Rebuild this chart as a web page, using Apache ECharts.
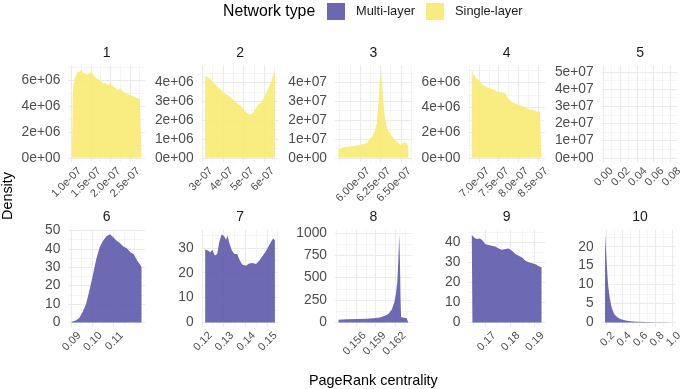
<!DOCTYPE html>
<html><head><meta charset="utf-8">
<script src="https://cdn.jsdelivr.net/npm/echarts@6/dist/echarts.min.js"></script>
<style>html,body{margin:0;padding:0;background:#fff}#c{width:685px;height:389px}</style>
</head><body><div id="c"></div>
<script>
// ---------------- data ----------------
const panelNames = ['1','2','3','4','5','6','7','8','9','10'];
const panelTypes = ['Single-layer','Single-layer','Single-layer','Single-layer','Single-layer',
                    'Multi-layer','Multi-layer','Multi-layer','Multi-layer','Multi-layer'];
const legendNames = ['Multi-layer','Single-layer'];

const p1x = [1.015e-7,1.031e-7,1.041e-7,1.057e-7,1.100e-7,1.159e-7,1.211e-7,1.254e-7,1.314e-7,1.357e-7,1.416e-7,1.468e-7,1.530e-7,1.571e-7,1.640e-7,1.699e-7,1.761e-7,1.812e-7,1.871e-7,1.931e-7,2.000e-7,2.069e-7,2.129e-7,2.188e-7,2.257e-7,2.326e-7,2.386e-7,2.429e-7,2.488e-7,2.558e-7,2.617e-7,2.686e-7,2.753e-7,2.797e-7];
const p1y = [0,2.5e6,5.0e6,5.6e6,6.15e6,6.67e6,6.59e6,6.8e6,6.54e6,6.67e6,6.41e6,6.54e6,6.59e6,6.41e6,6.15e6,6.02e6,5.89e6,5.71e6,5.77e6,5.64e6,5.71e6,5.56e6,5.38e6,5.25e6,5.3e6,5.12e6,4.99e6,5.04e6,4.86e6,4.78e6,4.68e6,4.6e6,4.53e6,4.42e6];

const p2x = [3.133e-7,3.267e-7,3.383e-7,3.517e-7,3.65e-7,3.783e-7,3.933e-7,4.067e-7,4.183e-7,4.317e-7,4.45e-7,4.583e-7,4.717e-7,4.85e-7,4.983e-7,5.117e-7,5.217e-7,5.35e-7,5.467e-7,5.583e-7,5.717e-7,5.85e-7,5.983e-7,6.1e-7,6.217e-7,6.317e-7,6.417e-7,6.517e-7];
const p2y = [4.32e6,4.29e6,4.18e6,4.0e6,3.88e6,3.7e6,3.57e6,3.43e6,3.34e6,3.25e6,3.11e6,2.99e6,2.86e6,2.77e6,2.58e6,2.4e6,2.33e6,2.31e6,2.4e6,2.63e6,2.81e6,2.93e6,3.17e6,3.47e6,3.7e6,4.0e6,4.36e6,4.68e6];

const p3x = [5.736e-7,5.756e-7,5.797e-7,5.858e-7,5.919e-7,5.980e-7,6.041e-7,6.082e-7,6.122e-7,6.155e-7,6.183e-7,6.204e-7,6.220e-7,6.232e-7,6.244e-7,6.252e-7,6.265e-7,6.277e-7,6.293e-7,6.309e-7,6.334e-7,6.366e-7,6.399e-7,6.431e-7,6.468e-7,6.496e-7,6.521e-7,6.549e-7,6.569e-7,6.590e-7];
const p3y = [0.45e7,0.5e7,0.55e7,0.59e7,0.62e7,0.66e7,0.73e7,0.8e7,0.98e7,1.16e7,1.48e7,1.83e7,2.54e7,3.43e7,4.23e7,4.68e7,4.23e7,3.43e7,2.54e7,2.01e7,1.57e7,1.3e7,1.09e7,0.94e7,0.8e7,0.68e7,0.77e7,0.85e7,0.77e7,0.62e7];

const p4x = [6.811e-7,6.854e-7,6.914e-7,6.983e-7,7.043e-7,7.111e-7,7.180e-7,7.248e-7,7.317e-7,7.386e-7,7.454e-7,7.523e-7,7.591e-7,7.660e-7,7.728e-7,7.797e-7,7.865e-7,7.934e-7,8.002e-7,8.071e-7,8.140e-7,8.208e-7,8.277e-7,8.345e-7,8.414e-7,8.482e-7,8.551e-7,8.594e-7];
const p4y = [7.02e6,6.62e6,6.35e6,6.22e6,5.95e6,5.74e6,5.68e6,5.55e6,5.47e6,5.42e6,5.28e6,5.23e6,5.2e6,5.15e6,4.75e6,4.56e6,4.4e6,4.3e6,4.22e6,4.14e6,4.08e6,3.95e6,3.87e6,3.82e6,3.76e6,3.68e6,3.68e6,3.55e6];

const p5x = [];
const p5y = [];
const p5xRange = [0.0026, 0.0836];
const p5yRange = [0, 5.13e7];

const p6x = [0.09048,0.0924,0.09399,0.09558,0.09721,0.0988,0.10038,0.10202,0.10361,0.10519,0.10683,0.10841,0.11,0.11163,0.11322,0.11481,0.11644,0.11803,0.11962,0.12125,0.12284,0.12332];
const p6y = [0.3,1,2.4,5.7,10,17.4,25.5,34.5,40.8,44.4,46.8,47.9,46.2,44.4,43,41.2,40.3,38.1,37.2,33.6,31.2,30];

const p7x = [0.12151,0.12278,0.12389,0.12484,0.12595,0.12706,0.12801,0.12913,0.13024,0.13119,0.13182,0.13278,0.13389,0.135,0.13627,0.13754,0.13865,0.14024,0.14182,0.14341,0.145,0.14659,0.14818,0.14976,0.15135,0.15294,0.15373];
const p7y = [29.3,28.9,28.2,29.2,26.9,27.5,32.3,35.5,34.7,33.3,35,31.6,28.9,27.5,27.5,24.9,23.3,22.8,23.7,23.9,23.5,24.9,26.9,28.9,31.6,33.9,33];

const p8x = [0.15339,0.15465,0.15615,0.15765,0.15864,0.15964,0.16039,0.16089,0.16140,0.16180,0.16204,0.16224,0.16239,0.16254,0.16264,0.16274,0.16282,0.16314,0.16365,0.16389];
const p8y = [30,34,37,41,45,56,75,93,142,224,317,448,673,985,700,250,60,53,48,37];

const p9x = [0.16425,0.16451,0.16521,0.16632,0.16771,0.16882,0.16979,0.17118,0.17257,0.17396,0.17535,0.17674,0.17813,0.17951,0.1809,0.18229,0.18368,0.18507,0.18646,0.18785,0.18924,0.19063,0.19201,0.19313];
const p9y = [43.5,43.9,42.3,41.5,41.8,40.6,39,38.5,38.1,37.8,36.8,36.2,36.5,36.8,35.7,34,33.2,32.3,30.7,29.9,29.5,29,27.9,27.4];

const p10x = [0.19,0.2,0.2116,0.2267,0.2464,0.2661,0.2846,0.3043,0.3426,0.382,0.44,0.498,0.5745,0.69,0.8,0.9,1.0];
const p10y = [23.3,19.5,15.1,10,6.5,4.3,3.0,2.1,1.3,0.8,0.5,0.3,0.2,0.08,0.04,0.02,0.01];

// tick labels (major) and minor grid values
const p1xTicks = [1.0e-7,1.5e-7,2.0e-7,2.5e-7], p1xMinor = [1.25e-7,1.75e-7,2.25e-7,2.75e-7];
const p1yTicks = [0,2e6,4e6,6e6],             p1yMinor = [1e6,3e6,5e6,7e6];
const p2xTicks = [3e-7,4e-7,5e-7,6e-7],       p2xMinor = [3.5e-7,4.5e-7,5.5e-7,6.5e-7];
const p2yTicks = [0,1e6,2e6,3e6,4e6],         p2yMinor = [0.5e6,1.5e6,2.5e6,3.5e6,4.5e6];
const p3xTicks = [6.00e-7,6.25e-7,6.50e-7],   p3xMinor = [5.75e-7,5.875e-7,6.125e-7,6.375e-7,6.625e-7];
const p3yTicks = [0,1e7,2e7,3e7,4e7],         p3yMinor = [0.5e7,1.5e7,2.5e7,3.5e7,4.5e7];
const p4xTicks = [7.0e-7,7.5e-7,8.0e-7,8.5e-7], p4xMinor = [6.75e-7,7.25e-7,7.75e-7,8.25e-7];
const p4yTicks = [0,2e6,4e6,6e6],             p4yMinor = [1e6,3e6,5e6,7e6];
const p5xTicks = [0,0.02,0.04,0.06,0.08],     p5xMinor = [0.01,0.03,0.05,0.07];
const p5yTicks = [0,1e7,2e7,3e7,4e7,5e7],     p5yMinor = [0.5e7,1.5e7,2.5e7,3.5e7,4.5e7];
const p6xTicks = [0.09,0.10,0.11],            p6xMinor = [0.095,0.105,0.115,0.12];
const p6yTicks = [0,10,20,30,40,50],          p6yMinor = [5,15,25,35,45];
const p7xTicks = [0.12,0.13,0.14,0.15],       p7xMinor = [0.125,0.135,0.145,0.155];
const p7yTicks = [0,10,20,30],                p7yMinor = [5,15,25,35];
const p8xTicks = [0.156,0.159,0.162],         p8xMinor = [0.153,0.1545,0.1575,0.1605,0.1635];
const p8yTicks = [0,250,500,750,1000],        p8yMinor = [125,375,625,875];
const p9xTicks = [0.17,0.18,0.19],            p9xMinor = [0.165,0.175,0.185];
const p9yTicks = [0,10,20,30,40],             p9yMinor = [5,15,25,35,45];
const p10xTicks = [0.2,0.4,0.6,0.8,1.0],      p10xMinor = [0.3,0.5,0.7,0.9];
const p10yTicks = [0,5,10,15,20],             p10yMinor = [2.5,7.5,12.5,17.5,22.5];

// ---------------- presentation ----------------
const FONT = "'Liberation Sans', Arial, Helvetica, sans-serif";
const COLORS = {'Multi-layer': '#5A54A8', 'Single-layer': '#F8E96E'};
const KEY_COLORS = {'Multi-layer': '#6C67B3', 'Single-layer': '#F8EC80'};
const colLeft = [68.3, 201.7, 335, 468.3, 601.7];
const rowTop = [65.2, 229.8];
const PW = 76.7, PH = 97;
const LABEL_SHIFT_PX = 4.6;   // rotated tick labels sit a little right of their tick, as ggplot's hjust/vjust = 1 does

function sci(d) {
  return v => v.toExponential(d).replace(/e([+-])(\d)$/, (m, s, n) => 'e' + s + '0' + n);
}
function fix(d) { return v => v.toFixed(d); }
function plain(v) { return String(Math.round(v)); }
function expand(lo, hi) { const w = hi - lo; return [lo - 0.05 * w, hi + 0.05 * w]; }

const P = [
  {x:p1x, y:p1y, xt:p1xTicks, xm:p1xMinor, yt:p1yTicks, ym:p1yMinor, xf:sci(1), yf:sci(0)},
  {x:p2x, y:p2y, xt:p2xTicks, xm:p2xMinor, yt:p2yTicks, ym:p2yMinor, xf:sci(0), yf:sci(0)},
  {x:p3x, y:p3y, xt:p3xTicks, xm:p3xMinor, yt:p3yTicks, ym:p3yMinor, xf:sci(2), yf:sci(0)},
  {x:p4x, y:p4y, xt:p4xTicks, xm:p4xMinor, yt:p4yTicks, ym:p4yMinor, xf:sci(1), yf:sci(0)},
  {x:p5x, y:p5y, xt:p5xTicks, xm:p5xMinor, yt:p5yTicks, ym:p5yMinor, xf:fix(2), yf:sci(0), xr:p5xRange, yr:p5yRange},
  {x:p6x, y:p6y, xt:p6xTicks, xm:p6xMinor, yt:p6yTicks, ym:p6yMinor, xf:fix(2), yf:plain},
  {x:p7x, y:p7y, xt:p7xTicks, xm:p7xMinor, yt:p7yTicks, ym:p7yMinor, xf:fix(2), yf:plain},
  {x:p8x, y:p8y, xt:p8xTicks, xm:p8xMinor, yt:p8yTicks, ym:p8yMinor, xf:fix(3), yf:plain},
  {x:p9x, y:p9y, xt:p9xTicks, xm:p9xMinor, yt:p9yTicks, ym:p9yMinor, xf:fix(2), yf:plain},
  {x:p10x, y:p10y, xt:p10xTicks, xm:p10xMinor, yt:p10yTicks, ym:p10yMinor, xf:fix(1), yf:plain}
];

const grids = [], xAxes = [], yAxes = [], series = [], graphics = [];
const majorLine = {show:true, lineStyle:{color:'#EBEBEB', width:1.1}};
const minorLine = {show:true, lineStyle:{color:'#EFEFEF', width:0.6}};
const hidden = {axisLine:{show:false}, axisTick:{show:false}, splitLine:{show:false}};

P.forEach((p, i) => {
  const col = i % 5, row = Math.floor(i / 5);
  const left = colLeft[col], top = rowTop[row];
  grids.push({left:left, top:top, width:PW, height:PH, containLabel:false});
  const xr = p.xr || [Math.min(...p.x), Math.max(...p.x)];
  const yr = p.yr || [0, Math.max(...p.y)];
  const xl = expand(xr[0], xr[1]);
  const yl = expand(Math.min(0, yr[0]), yr[1]);
  const unit = (xl[1] - xl[0]) / PW;                 // data units per pixel
  const room = (xl[1] - Math.max(...p.xt)) / unit - 0.15;   // keep the last label inside the label axis
  const shift = Math.min(LABEL_SHIFT_PX, room) * unit;
  // major grid x axis (the data axis)
  xAxes.push({gridIndex:i, type:'value', min:xl[0], max:xl[1], position:'bottom',
    axisLine:{show:false}, axisTick:{show:false, customValues:p.xt}, axisLabel:{show:false},
    splitLine:majorLine});
  // minor grid x axis
  xAxes.push({gridIndex:i, type:'value', min:xl[0], max:xl[1], position:'bottom',
    axisLine:{show:false}, axisTick:{show:false, customValues:p.xm}, axisLabel:{show:false},
    splitLine:minorLine});
  // tick-label x axis
  xAxes.push(Object.assign({gridIndex:i, type:'value', min:xl[0] - shift, max:xl[1] - shift, position:'bottom',
    axisLabel:{customValues:p.xt, formatter:p.xf, rotate:45, align:'right', verticalAlign:'top',
      lineHeight:11, margin:3.2, showMinLabel:true, showMaxLabel:true, hideOverlap:false,
      fontSize:11, color:'#4D4D4D', fontFamily:FONT}}, hidden));
  yAxes.push({gridIndex:i, type:'value', min:yl[0], max:yl[1],
    axisLine:{show:false}, axisTick:{show:false, customValues:p.yt},
    axisLabel:{customValues:p.yt, formatter:p.yf, margin:8, showMinLabel:true, showMaxLabel:true, hideOverlap:false,
      fontSize:13.8, color:'#4D4D4D', fontFamily:FONT},
    splitLine:majorLine});
  yAxes.push({gridIndex:i, type:'value', min:yl[0], max:yl[1],
    axisLine:{show:false}, axisTick:{show:false, customValues:p.ym}, axisLabel:{show:false},
    splitLine:minorLine});
  const type = panelTypes[i];
  series.push({type:'line', name:type, xAxisIndex:3*i, yAxisIndex:2*i,
    data:p.x.map((v, k) => [v, p.y[k]]),
    showSymbol:false, symbol:'none', smooth:false, silent:true,
    lineStyle:{width:0, color:COLORS[type]}, itemStyle:{color:COLORS[type]},
    areaStyle:{color:COLORS[type], opacity:0.88}, emphasis:{disabled:true}, z:3});
  graphics.push({type:'text', x:left + PW / 2, y:row === 0 ? 52.8 : 216.8,
    style:{text:panelNames[i], font:'14px ' + FONT, fill:'#1A1A1A', align:'center', verticalAlign:'middle'}});
});

graphics.push({type:'text', x:8.5, y:196, rotation:Math.PI / 2,
  style:{text:'Density', font:'14.4px ' + FONT, fill:'#000', align:'center', verticalAlign:'middle'}});
graphics.push({type:'text', x:373.4, y:381,
  style:{text:'PageRank centrality', font:'14.4px ' + FONT, fill:'#000', align:'center', verticalAlign:'middle'}});
graphics.push({type:'text', x:223, y:11.5,
  style:{text:'Network type', font:'15.8px ' + FONT, fill:'#000', align:'left', verticalAlign:'middle'}});

const chart = echarts.init(document.getElementById('c'), null, {renderer:'canvas'});
chart.setOption({
  animation:false,
  backgroundColor:'#ffffff',
  grid:grids, xAxis:xAxes, yAxis:yAxes, series:series,
  legend:{data:legendNames.map(n => ({name:n, itemStyle:{color:KEY_COLORS[n], borderWidth:0}})),
    left:327, top:3, padding:0, itemWidth:18, itemHeight:17, itemGap:11, icon:'rect', selectedMode:false,
    textStyle:{fontSize:12.8, color:'#1A1A1A', fontFamily:FONT, padding:[0,0,0,6]}},
  graphic:graphics
});
</script></body></html>
